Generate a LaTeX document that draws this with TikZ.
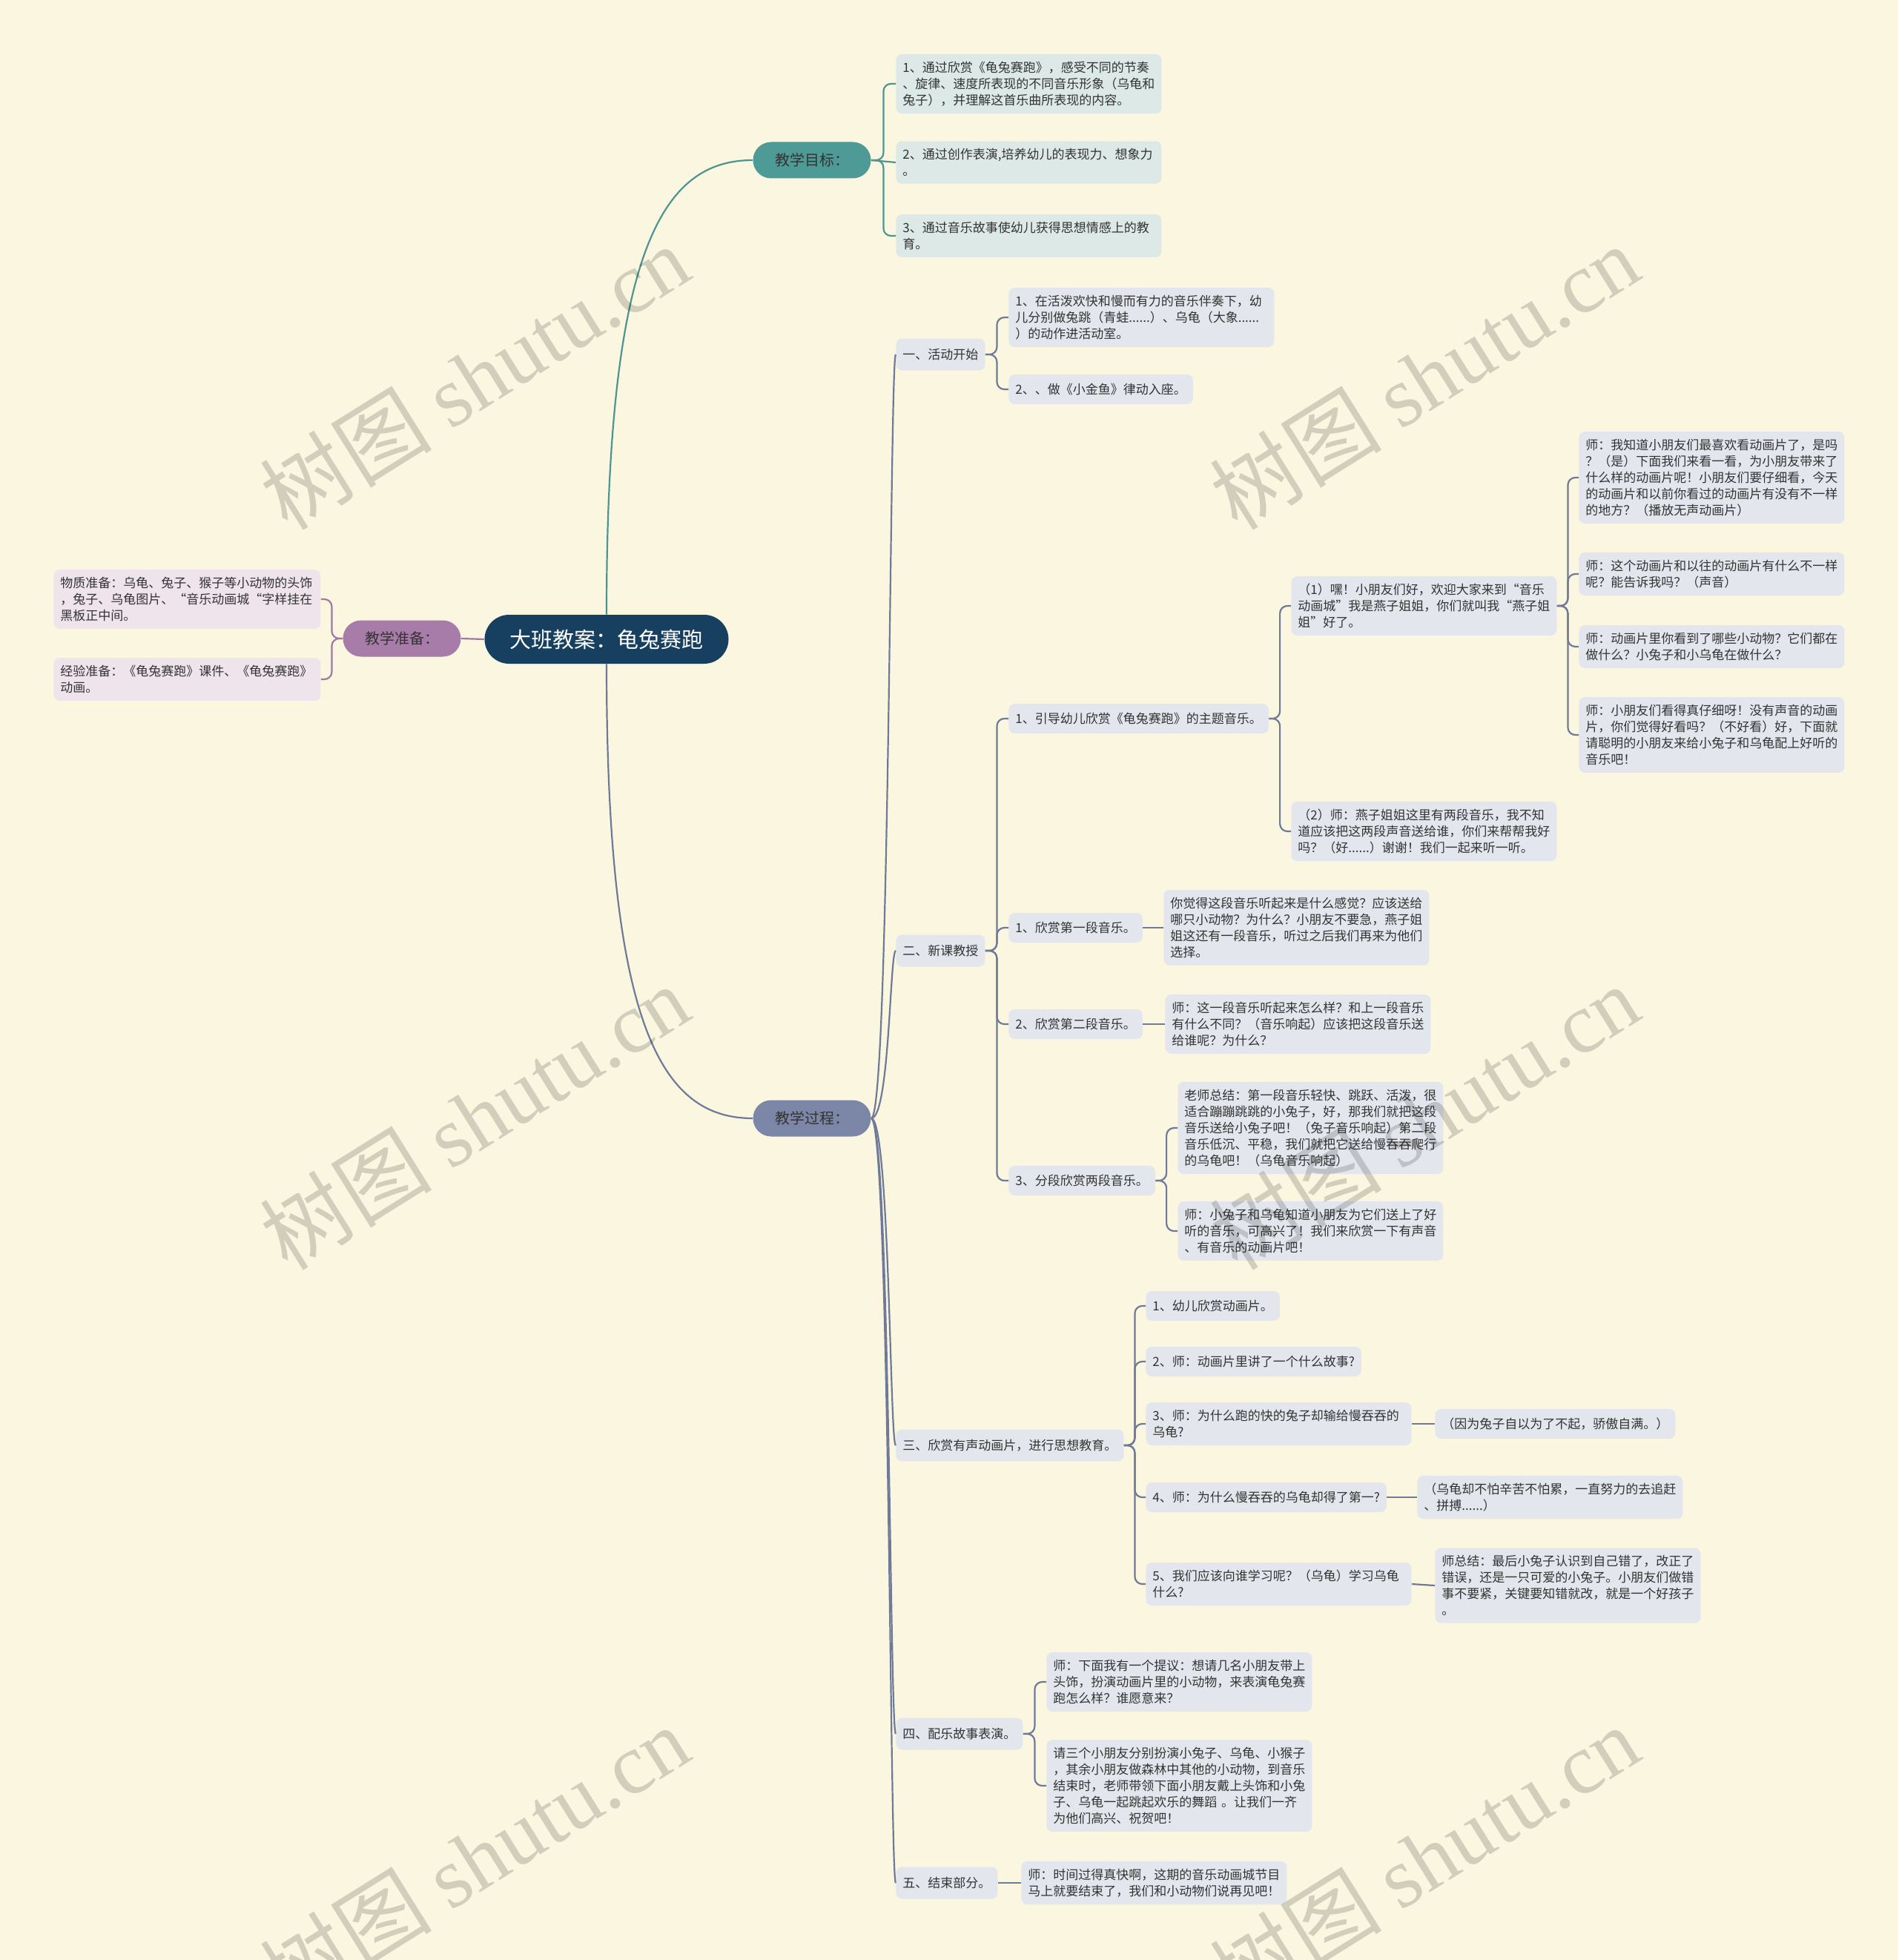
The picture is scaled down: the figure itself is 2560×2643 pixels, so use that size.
\documentclass[tikz,border=0pt]{standalone}
\usepackage{fontspec}
\setmainfont{Noto Sans CJK SC}
\newfontfamily\wmserif{Liberation Serif}
\usetikzlibrary{calc}
\definecolor{bg}{HTML}{FAF6E0}
\definecolor{navy}{HTML}{173F5F}
\definecolor{teal}{HTML}{4E9A97}
\definecolor{slate}{HTML}{7C87A8}
\definecolor{plum}{HTML}{A77CA8}
\definecolor{gfill}{HTML}{DCE9E6}
\definecolor{pfill}{HTML}{EFE3EC}
\definecolor{qfill}{HTML}{E3E6EC}
\definecolor{txt}{HTML}{333333}
\definecolor{tline}{HTML}{4E9490}
\definecolor{sline}{HTML}{6F7A98}
\definecolor{pline}{HTML}{9E7AA0}
\tikzset{
  basenote/.style={font=\fontsize{8.5}{11}\selectfont, text=txt, align=left,
    inner xsep=4.5pt, inner ysep=5pt, rounded corners=4pt, anchor=west, minimum height=20pt},
  gnote/.style={basenote, fill=gfill},
  pnote/.style={basenote, fill=pfill},
  qnote/.style={basenote, fill=qfill},
  subnote/.style={qnote, minimum height=21.5pt},
  wide/.style={text width=170pt},
  topic/.style={font=\fontsize{10}{12}\selectfont, text=txt, minimum width=79.5pt,
    minimum height=24.5pt, rounded corners=12.25pt, inner sep=0pt},
  tl/.style={draw=tline, line width=1.1pt},
  sl/.style={draw=sline, line width=1.1pt},
  pl/.style={draw=pline, line width=1.1pt},
  wm/.style={text=black, text opacity=0.16, rotate=32, font=\fontsize{58}{58}\selectfont, inner sep=0pt}
}
\newcommand{\mmR}[3]{\draw[#1,rounded corners=5pt] (#2.east) -- ($(#2.east)!0.5!(#3.west |- #2.east)$) |- (#3.west);}
\newcommand{\mmL}[3]{\draw[#1,rounded corners=5pt] (#2.west) -- ($(#2.west)!0.5!(#3.east |- #2.west)$) |- (#3.east);}
\newcommand{\mmS}[3]{\draw[#1] (#2.east) -- (#3.west);}
\begin{document}
\begin{tikzpicture}[x=0.5pt,y=-0.5pt]
\fill[bg] (0,0) rectangle (2560,2643);
\useasboundingbox (0,0) rectangle (2560,2643);

% root and topics
\node[fill=navy, text=white, font=\fontsize{14.5}{16}\selectfont, minimum width=164.5pt,
  minimum height=33pt, rounded corners=16.5pt, inner sep=0pt] (root) at (818,862) {大班教案：龟兔赛跑};
\node[topic, fill=teal] (goal) at (1095,216) {教学目标：};
\node[topic, fill=slate] (proc) at (1095,1508) {教学过程：};
\node[topic, fill=plum] (prep) at (542,861) {教学准备：};

% goals
\node[gnote, wide] (g1) at (1208,113) {1、通过欣赏《龟兔赛跑》，感受不同的节奏\\、旋律、速度所表现的不同音乐形象（乌龟和\\兔子），并理解这首乐曲所表现的内容。};
\node[gnote, wide] (g2) at (1208,219) {2、通过创作表演,培养幼儿的表现力、想象力\\。};
\node[gnote, wide] (g3) at (1208,318) {3、通过音乐故事使幼儿获得思想情感上的教\\育。};

% preparation
\node[pnote, text width=171pt] (p1) at (72,808) {物质准备：乌龟、兔子、猴子等小动物的头饰\\，兔子、乌龟图片、“音乐动画城“字样挂在\\黑板正中间。};
\node[pnote, text width=171pt] (p2) at (72,916) {经验准备：《龟兔赛跑》课件、《龟兔赛跑》\\动画。};

% process level 2
\node[subnote] (s1) at (1208,478) {一、活动开始};
\node[subnote] (s2) at (1208,1282) {二、新课教授};
\node[subnote] (s3) at (1208,1949) {三、欣赏有声动画片，进行思想教育。};
\node[subnote] (s4) at (1208,2338) {四、配乐故事表演。};
\node[subnote] (s5) at (1208,2539) {五、结束部分。};

% part one
\node[qnote, wide] (a1) at (1360,428) {1、在活泼欢快和慢而有力的音乐伴奏下，幼\\儿分别做兔跳（青蛙......）、乌龟（大象......\\）的动作进活动室。};
\node[qnote] (a2) at (1360,525) {2、、做《小金鱼》律动入座。};

% part two
\node[qnote] (b1) at (1360,969) {1、引导幼儿欣赏《龟兔赛跑》的主题音乐。};
\node[qnote] (b2) at (1360,1251) {1、欣赏第一段音乐。};
\node[qnote] (b3) at (1360,1381) {2、欣赏第二段音乐。};
\node[qnote] (b4) at (1360,1592) {3、分段欣赏两段音乐。};

\node[qnote, wide] (b1a) at (1741,817) {（1）嘿！小朋友们好，欢迎大家来到“音乐\\动画城”我是燕子姐姐，你们就叫我“燕子姐\\姐”好了。};
\node[qnote, wide] (b1b) at (1741,1121) {（2）师：燕子姐姐这里有两段音乐，我不知\\道应该把这两段声音送给谁，你们来帮帮我好\\吗？（好......）谢谢！我们一起来听一听。};

\node[qnote, wide] (x1) at (2129,644) {师：我知道小朋友们最喜欢看动画片了，是吗\\？（是）下面我们来看一看，为小朋友带来了\\什么样的动画片呢！小朋友们要仔细看，今天\\的动画片和以前你看过的动画片有没有不一样\\的地方？（播放无声动画片）};
\node[qnote, wide] (x2) at (2129,774) {师：这个动画片和以往的动画片有什么不一样\\呢？能告诉我吗？（声音）};
\node[qnote, wide] (x3) at (2129,872) {师：动画片里你看到了哪些小动物？它们都在\\做什么？小兔子和小乌龟在做什么？};
\node[qnote, wide] (x4) at (2129,991) {师：小朋友们看得真仔细呀！没有声音的动画\\片，你们觉得好看吗？（不好看）好，下面就\\请聪明的小朋友来给小兔子和乌龟配上好听的\\音乐吧！};

\node[qnote, wide] (b2c) at (1569,1251) {你觉得这段音乐听起来是什么感觉？应该送给\\哪只小动物？为什么？小朋友不要急，燕子姐\\姐这还有一段音乐，听过之后我们再来为他们\\选择。};
\node[qnote, wide] (b3c) at (1571,1381) {师：这一段音乐听起来怎么样？和上一段音乐\\有什么不同？（音乐响起）应该把这段音乐送\\给谁呢？为什么？};
\node[qnote, wide] (b4a) at (1588,1521) {老师总结：第一段音乐轻快、跳跃、活泼，很\\适合蹦蹦跳跳的小兔子，好，那我们就把这段\\音乐送给小兔子吧！（兔子音乐响起）第二段\\音乐低沉、平稳，我们就把它送给慢吞吞爬行\\的乌龟吧！（乌龟音乐响起）};
\node[qnote, wide] (b4b) at (1588,1660) {师：小兔子和乌龟知道小朋友为它们送上了好\\听的音乐，可高兴了！我们来欣赏一下有声音\\、有音乐的动画片吧！};

% part three
\node[qnote] (c1) at (1545,1761) {1、幼儿欣赏动画片。};
\node[qnote] (c2) at (1545,1836) {2、师：动画片里讲了一个什么故事?};
\node[qnote, wide] (c3) at (1545,1920) {3、师：为什么跑的快的兔子却输给慢吞吞的\\乌龟?};
\node[qnote] (c4) at (1545,2019) {4、师：为什么慢吞吞的乌龟却得了第一?};
\node[qnote, wide] (c5) at (1545,2136) {5、我们应该向谁学习呢？（乌龟）学习乌龟\\什么?};
\node[qnote] (c3r) at (1935,1920) {（因为兔子自以为了不起，骄傲自满。）};
\node[qnote, wide] (c4r) at (1911,2019) {（乌龟却不怕辛苦不怕累，一直努力的去追赶\\、拼搏......）};
\node[qnote, wide] (c5r) at (1935,2138) {师总结：最后小兔子认识到自己错了，改正了\\错误，还是一只可爱的小兔子。小朋友们做错\\事不要紧，关键要知错就改，就是一个好孩子\\。};

% part four and five
\node[qnote, wide] (d1) at (1411,2268) {师：下面我有一个提议：想请几名小朋友带上\\头饰，扮演动画片里的小动物，来表演龟兔赛\\跑怎么样？谁愿意来？};
\node[qnote, wide] (d2) at (1411,2408) {请三个小朋友分别扮演小兔子、乌龟、小猴子\\，其余小朋友做森林中其他的小动物，到音乐\\结束时，老师带领下面小朋友戴上头饰和小兔\\子、乌龟一起跳起欢乐的舞蹈 。让我们一齐\\为他们高兴、祝贺吧！};
\node[qnote, wide] (e1) at (1377,2539) {师：时间过得真快啊，这期的音乐动画城节目\\马上就要结束了，我们和小动物们说再见吧！};

% connectors: root
\draw[tl] (root.north) .. controls (818,337) and (893,216) .. (goal.west);
\draw[sl] (root.south) .. controls (818,1387) and (893,1508) .. (proc.west);
\draw[pl] (root.west) -- (prep.east);

% goals
\mmR{tl}{goal}{g1}
\mmS{tl}{goal}{g2}
\mmR{tl}{goal}{g3}

% prep
\mmL{pl}{prep}{p1}
\mmL{pl}{prep}{p2}

% process curves
\foreach \s in {s1,s2,s3,s4,s5}{
  \draw[sl] (proc.east) .. controls +(25,0) and +(-8,0) .. (\s.west);
}

\mmR{sl}{s1}{a1}
\mmR{sl}{s1}{a2}
\mmR{sl}{s2}{b1}
\mmR{sl}{s2}{b2}
\mmR{sl}{s2}{b3}
\mmR{sl}{s2}{b4}
\mmR{sl}{b1}{b1a}
\mmR{sl}{b1}{b1b}
\mmR{sl}{b1a}{x1}
\mmR{sl}{b1a}{x2}
\mmR{sl}{b1a}{x3}
\mmR{sl}{b1a}{x4}
\mmS{sl}{b2}{b2c}
\mmS{sl}{b3}{b3c}
\mmR{sl}{b4}{b4a}
\mmR{sl}{b4}{b4b}
\mmR{sl}{s3}{c1}
\mmR{sl}{s3}{c2}
\mmR{sl}{s3}{c3}
\mmR{sl}{s3}{c4}
\mmR{sl}{s3}{c5}
\mmS{sl}{c3}{c3r}
\mmS{sl}{c4}{c4r}
\mmS{sl}{c5}{c5r}
\mmR{sl}{s4}{d1}
\mmR{sl}{s4}{d2}
\mmS{sl}{s5}{e1}

% watermarks
\node[wm] (w1) at (640,508) {树图 {\wmserif shutu.cn}};
\node[wm] (w2) at (1921,508) {树图 {\wmserif shutu.cn}};
\node[wm] (w3) at (640,1506) {树图 {\wmserif shutu.cn}};
\node[wm] (w4) at (1921,1506) {树图 {\wmserif shutu.cn}};
\node[wm] (w5) at (640,2505) {树图 {\wmserif shutu.cn}};
\node[wm] (w6) at (1921,2505) {树图 {\wmserif shutu.cn}};
\end{tikzpicture}
\end{document}
